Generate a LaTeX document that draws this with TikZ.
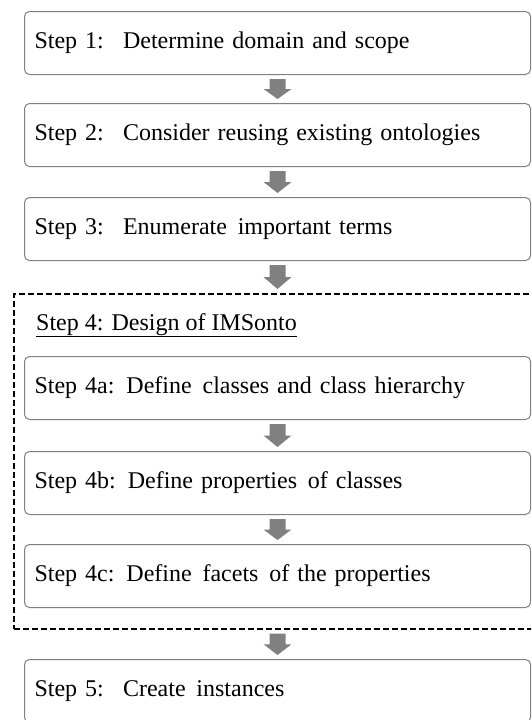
\documentclass[tikz,border=0pt]{standalone}
\usepackage{fontspec}
\setmainfont{Liberation Serif}
\usetikzlibrary{arrows.meta,calc}

\definecolor{boxline}{RGB}{128,128,128}
\definecolor{arrowfill}{RGB}{128,128,128}

\tikzset{
  stepfont/.style={font=\fontsize{24}{28}\selectfont},
  stepbox/.style={draw=boxline, line width=1pt, rounded corners=5pt,
    minimum width=506pt, minimum height=63pt, text width=486pt,
    inner xsep=10pt, align=left, anchor=north west, stepfont},
  groupframe/.style={draw=black, line width=1.5pt, dash pattern=on 6pt off 3pt},
}

% block arrow hanging between two stacked nodes (#1 above, #2 below),
% centred on the step box #3
\newcommand{\blockarrow}[3]{%
  \fill[arrowfill] let \p1=($(#1.south)+(0,-4pt)$), \p2=($(#2.north)+(0,4pt)$),
    \p3=(#3.center), \n1={0.5*(\y1+\y2)} in
    (\x3-8pt,\y1) -- (\x3+8pt,\y1) -- (\x3+8pt,\n1) -- (\x3+14pt,\n1)
    -- (\x3,\y2) -- (\x3-14pt,\n1) -- (\x3-8pt,\n1) -- cycle;}

\begin{document}
\begin{tikzpicture}[x=1pt, y=-1pt]
  \clip (0,0) rectangle (531,720);
  \fill[white] (0,0) rectangle (531,720);

  % outer steps
  \node[stepbox] (s1) at (24,11) {Step 1:\hspace{0.8em}Determine domain and scope};
  \node[stepbox] (s2) at (24,103) {Step 2:\hspace{0.8em}Consider reusing existing ontologies};
  \node[stepbox] (s3) at (24,197) {Step 3:\hspace{0.8em}Enumerate\hspace{0.45em}important terms};

  % grouped design step
  \node[groupframe, minimum width=540pt, minimum height=335pt, anchor=north west,
        inner sep=0pt] (g4) at (13,293) {};
  \node[anchor=base west, inner sep=0pt, stepfont]
        (t4) at (36,330) {\underline{Step 4: Design of IMSonto}};
  \node[stepbox] (s4a) at (24,356) {Step 4a: Define\hspace{0.45em}classes and class hierarchy};
  \node[stepbox] (s4b) at (24,451) {Step 4b: Define properties\hspace{0.45em}of classes};
  \node[stepbox] (s4c) at (24,544) {Step 4c: Define\hspace{0.45em}facets\hspace{0.45em}of the properties};

  \node[stepbox] (s5) at (24,659) {Step 5:\hspace{0.8em}Create\hspace{0.45em}instances};

  % connecting arrows
  \blockarrow{s1}{s2}{s1}
  \blockarrow{s2}{s3}{s2}
  \blockarrow{s3}{g4}{s3}
  \blockarrow{s4a}{s4b}{s4a}
  \blockarrow{s4b}{s4c}{s4b}
  \blockarrow{g4}{s5}{s5}
\end{tikzpicture}
\end{document}
